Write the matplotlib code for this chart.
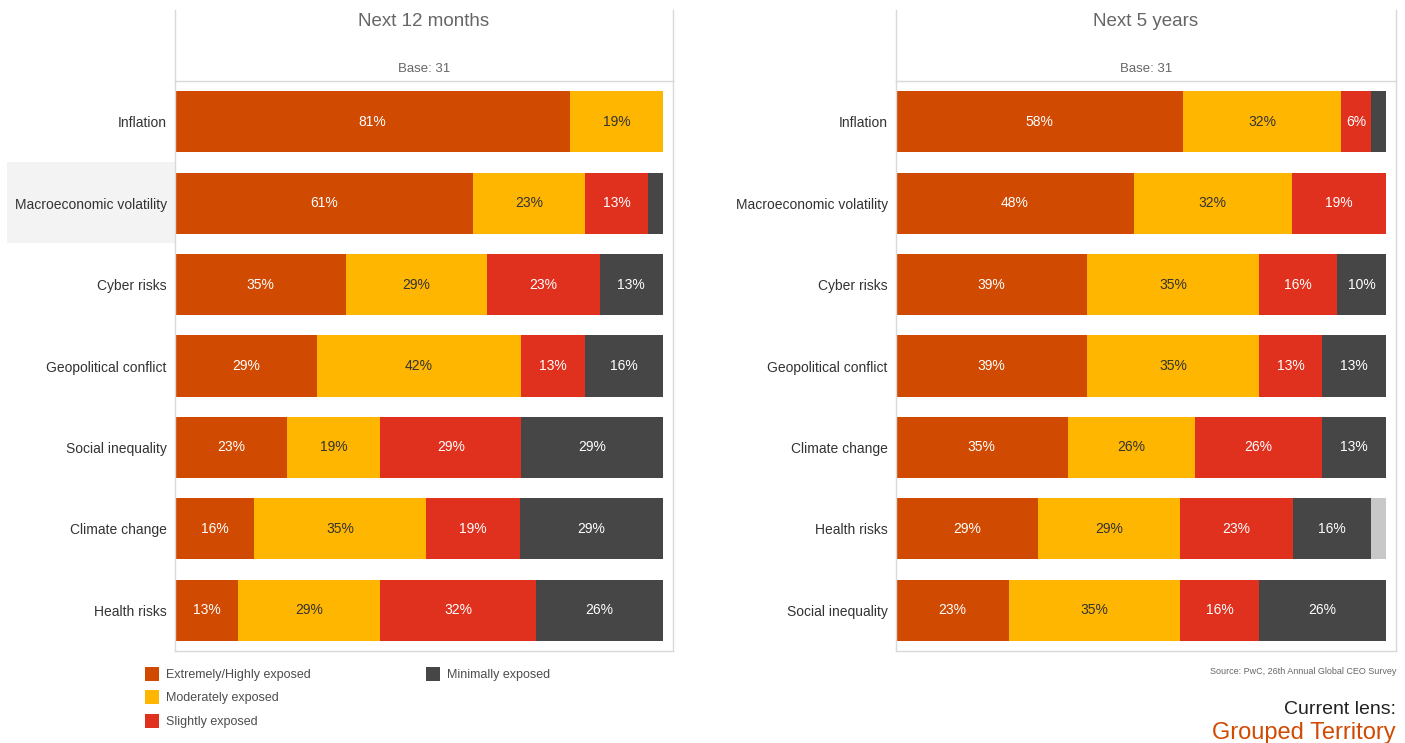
import matplotlib
matplotlib.use("Agg")
import matplotlib.pyplot as plt
from matplotlib.patches import Rectangle
from matplotlib.lines import Line2D

plt.rcParams['font.family'] = ['Liberation Sans', 'DejaVu Sans']

series = ["Extremely/Highly exposed", "Moderately exposed", "Slightly exposed",
          "Minimally exposed", "Don't know"]
colors = ["#D04A02", "#FFB600", "#E0301E", "#464646", "#C8C8C8"]
text_colors = ["white", "#333333", "white", "white", "#333333"]

# Next 12 months
cats_12m = ["Inflation", "Macroeconomic volatility", "Cyber risks", "Geopolitical conflict",
            "Social inequality", "Climate change", "Health risks"]
extreme_12m = [81, 61, 35, 29, 23, 16, 13]
moderate_12m = [19, 23, 29, 42, 19, 35, 29]
slight_12m = [0, 13, 23, 13, 29, 19, 32]
minimal_12m = [0, 3, 13, 16, 29, 29, 26]
dontknow_12m = [0, 0, 0, 0, 0, 0, 0]

# Next 5 years
cats_5y = ["Inflation", "Macroeconomic volatility", "Cyber risks", "Geopolitical conflict",
           "Climate change", "Health risks", "Social inequality"]
extreme_5y = [58, 48, 39, 39, 35, 29, 23]
moderate_5y = [32, 32, 35, 35, 26, 29, 35]
slight_5y = [6, 19, 16, 13, 26, 23, 16]
minimal_5y = [3, 0, 10, 13, 13, 16, 26]
dontknow_5y = [0, 0, 0, 0, 0, 3, 0]

W, H = 1405, 743
fig = plt.figure(figsize=(W / 100, H / 100), dpi=100)
fig.patch.set_facecolor("white")


def fx(px):
    return px / W


def fy(py):
    return 1 - py / H


frame_col = "#D9D9D9"


def panel(x0, x1, xbar1, title, cats, data):
    ax = fig.add_axes([fx(x0), fy(651), fx(x1) - fx(x0), (651 - 81) / H])
    n = len(cats)
    ax.set_xlim(0, 100 * (x1 - x0) / (xbar1 - x0))
    ax.set_ylim(n - 0.5, -0.5)
    ypos = list(range(n))
    totals = [sum(s[i] for s in data) for i in range(n)]
    lefts = [0.0] * n
    for s_idx, vals in enumerate(data):
        widths = [vals[i] * 100.0 / totals[i] for i in range(n)]
        ax.barh(ypos, widths, left=lefts, height=0.75, color=colors[s_idx],
                edgecolor="none", zorder=2)
        for i in range(n):
            if vals[i] >= 5:
                ax.text(lefts[i] + widths[i] / 2, ypos[i], f"{vals[i]}%",
                        ha="center", va="center", fontsize=10,
                        color=text_colors[s_idx], zorder=3)
        lefts = [lefts[i] + widths[i] for i in range(n)]
    ax.set_yticks(ypos)
    ax.set_yticklabels(cats, fontsize=10, color="#333333")
    ax.tick_params(axis="y", length=0, pad=6)
    ax.set_xticks([])
    for sp in ax.spines.values():
        sp.set_color(frame_col)
        sp.set_linewidth(1.0)
    # header lines
    for xx in (x0, x1):
        fig.add_artist(Line2D([fx(xx), fx(xx)], [fy(10), fy(81)], color=frame_col,
                              lw=1.0, transform=fig.transFigure))
    xc = fx((x0 + x1) / 2)
    fig.text(xc, fy(21), title, ha="center", va="center", fontsize=13.5, color="#666666")
    fig.text(xc, fy(69), "Base: 31", ha="center", va="center", fontsize=9.5, color="#666666")
    return ax


# highlight behind "Macroeconomic volatility" (left panel)
fig.add_artist(Rectangle((fx(7), fy(243)), fx(175) - fx(7), (243 - 162) / H,
                         transform=fig.transFigure, facecolor="#F3F3F3",
                         edgecolor="none", zorder=0))

panel(175, 673, 663, "Next 12 months", cats_12m,
      [extreme_12m, moderate_12m, slight_12m, minimal_12m, dontknow_12m])
panel(896, 1396, 1386, "Next 5 years", cats_5y,
      [extreme_5y, moderate_5y, slight_5y, minimal_5y, dontknow_5y])

# legend
legend_pos = [(145, 674), (145, 697), (145, 721), (426, 674)]
for k, (lx, ly) in enumerate(legend_pos):
    fig.add_artist(Rectangle((fx(lx), fy(ly + 7)), 14 / W, 14 / H,
                             transform=fig.transFigure, facecolor=colors[k],
                             edgecolor="none"))
    fig.text(fx(lx + 21), fy(ly + 1), series[k], ha="left", va="center",
             fontsize=9, color="#4D4D4D")

fig.text(fx(1396), fy(671), "Source: PwC, 26th Annual Global CEO Survey", ha="right",
         va="center", fontsize=6.5, color="#666666")
fig.text(fx(1396), fy(710), "Current lens:", ha="right", va="center", fontsize=14,
         color="#222222")
fig.text(fx(1396), fy(733), "Grouped Territory", ha="right", va="center", fontsize=17,
         color="#D04A02")

fig.savefig("out.png", dpi=100, facecolor="white")
